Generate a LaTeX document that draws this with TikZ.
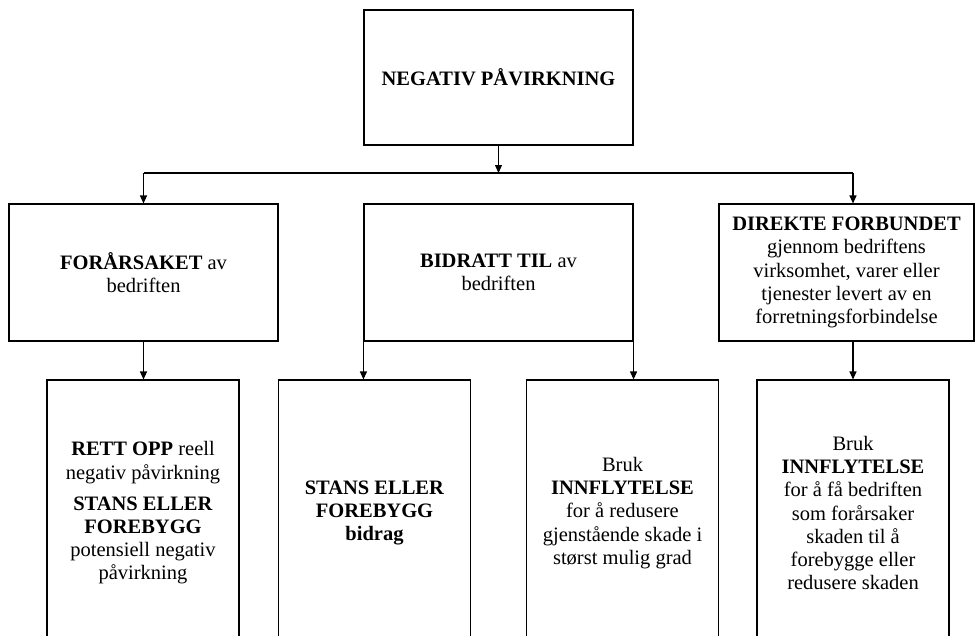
\documentclass[tikz,border=0pt]{standalone}
\usepackage{fontspec}
\setmainfont{Liberation Serif}
\usetikzlibrary{arrows.meta}

\begin{document}
\begin{tikzpicture}[x=1pt,y=-1pt,line width=1.1pt,>={Triangle[width=7pt,length=8pt]}]
\tikzstyle{box}=[draw=black, line width=1.1pt, align=center, inner sep=4pt, font=\fontsize{20.5}{23.2}\selectfont]
\tikzstyle{upper}=[box, minimum width=269, minimum height=137]
\tikzstyle{lower}=[box, minimum width=192, minimum height=266]
\path[use as bounding box, clip] (0,0) rectangle (975,635);
\node [box, minimum width=269, minimum height=135] (impact) at (498.5,77.5) {\textbf{NEGATIV PÅVIRKNING}};
\node [upper] (caused) at (143.5,272.5) {\textbf{FORÅRSAKET} av\\bedriften};
\node [upper] (contrib) at (498.5,272.5) {\textbf{BIDRATT TIL} av\\bedriften};
\node [upper, minimum width=255] (linked) at (846.5,272.5) {\textbf{DIREKTE FORBUNDET}\\gjennom bedriftens\\virksomhet, varer eller\\tjenester levert av en\\forretningsforbindelse};
\node [lower] (remedy) at (143,513) {\textbf{RETT OPP} reell\\negativ påvirkning\\[8pt]\textbf{STANS ELLER}\\\textbf{FOREBYGG}\\potensiell negativ\\påvirkning};
\node [lower] (stopcontrib) at (374.5,513) {\textbf{STANS ELLER}\\\textbf{FOREBYGG}\\\textbf{bidrag}};
\node [lower] (mitigate) at (622.5,513) {Bruk\\\textbf{INNFLYTELSE}\\for å redusere\\gjenstående skade i\\størst mulig grad};
\node [lower] (leverage) at (853,513) {Bruk\\\textbf{INNFLYTELSE}\\for å få bedriften\\som forårsaker\\skaden til å\\forebygge eller\\redusere skaden};
\coordinate (jl) at (143.5,173);
\coordinate (jm) at (498.5,173);
\coordinate (jr) at (853,173);
\draw [black] (jl) -- (jr);
\draw [black,->] (impact) -- (jm);
\draw [black,->] (jl) -- (caused);
\draw [black,->] (jr) -- (jr |- linked.north);
\draw [black,->] (caused) -- (caused |- remedy.north);
\draw [black,->] (contrib.south west) -- (contrib.south west |- stopcontrib.north);
\draw [black,->] (contrib.south east) -- (contrib.south east |- mitigate.north);
\draw [black,->] (leverage.north |- linked.south) -- (leverage);
\end{tikzpicture}
\end{document}
